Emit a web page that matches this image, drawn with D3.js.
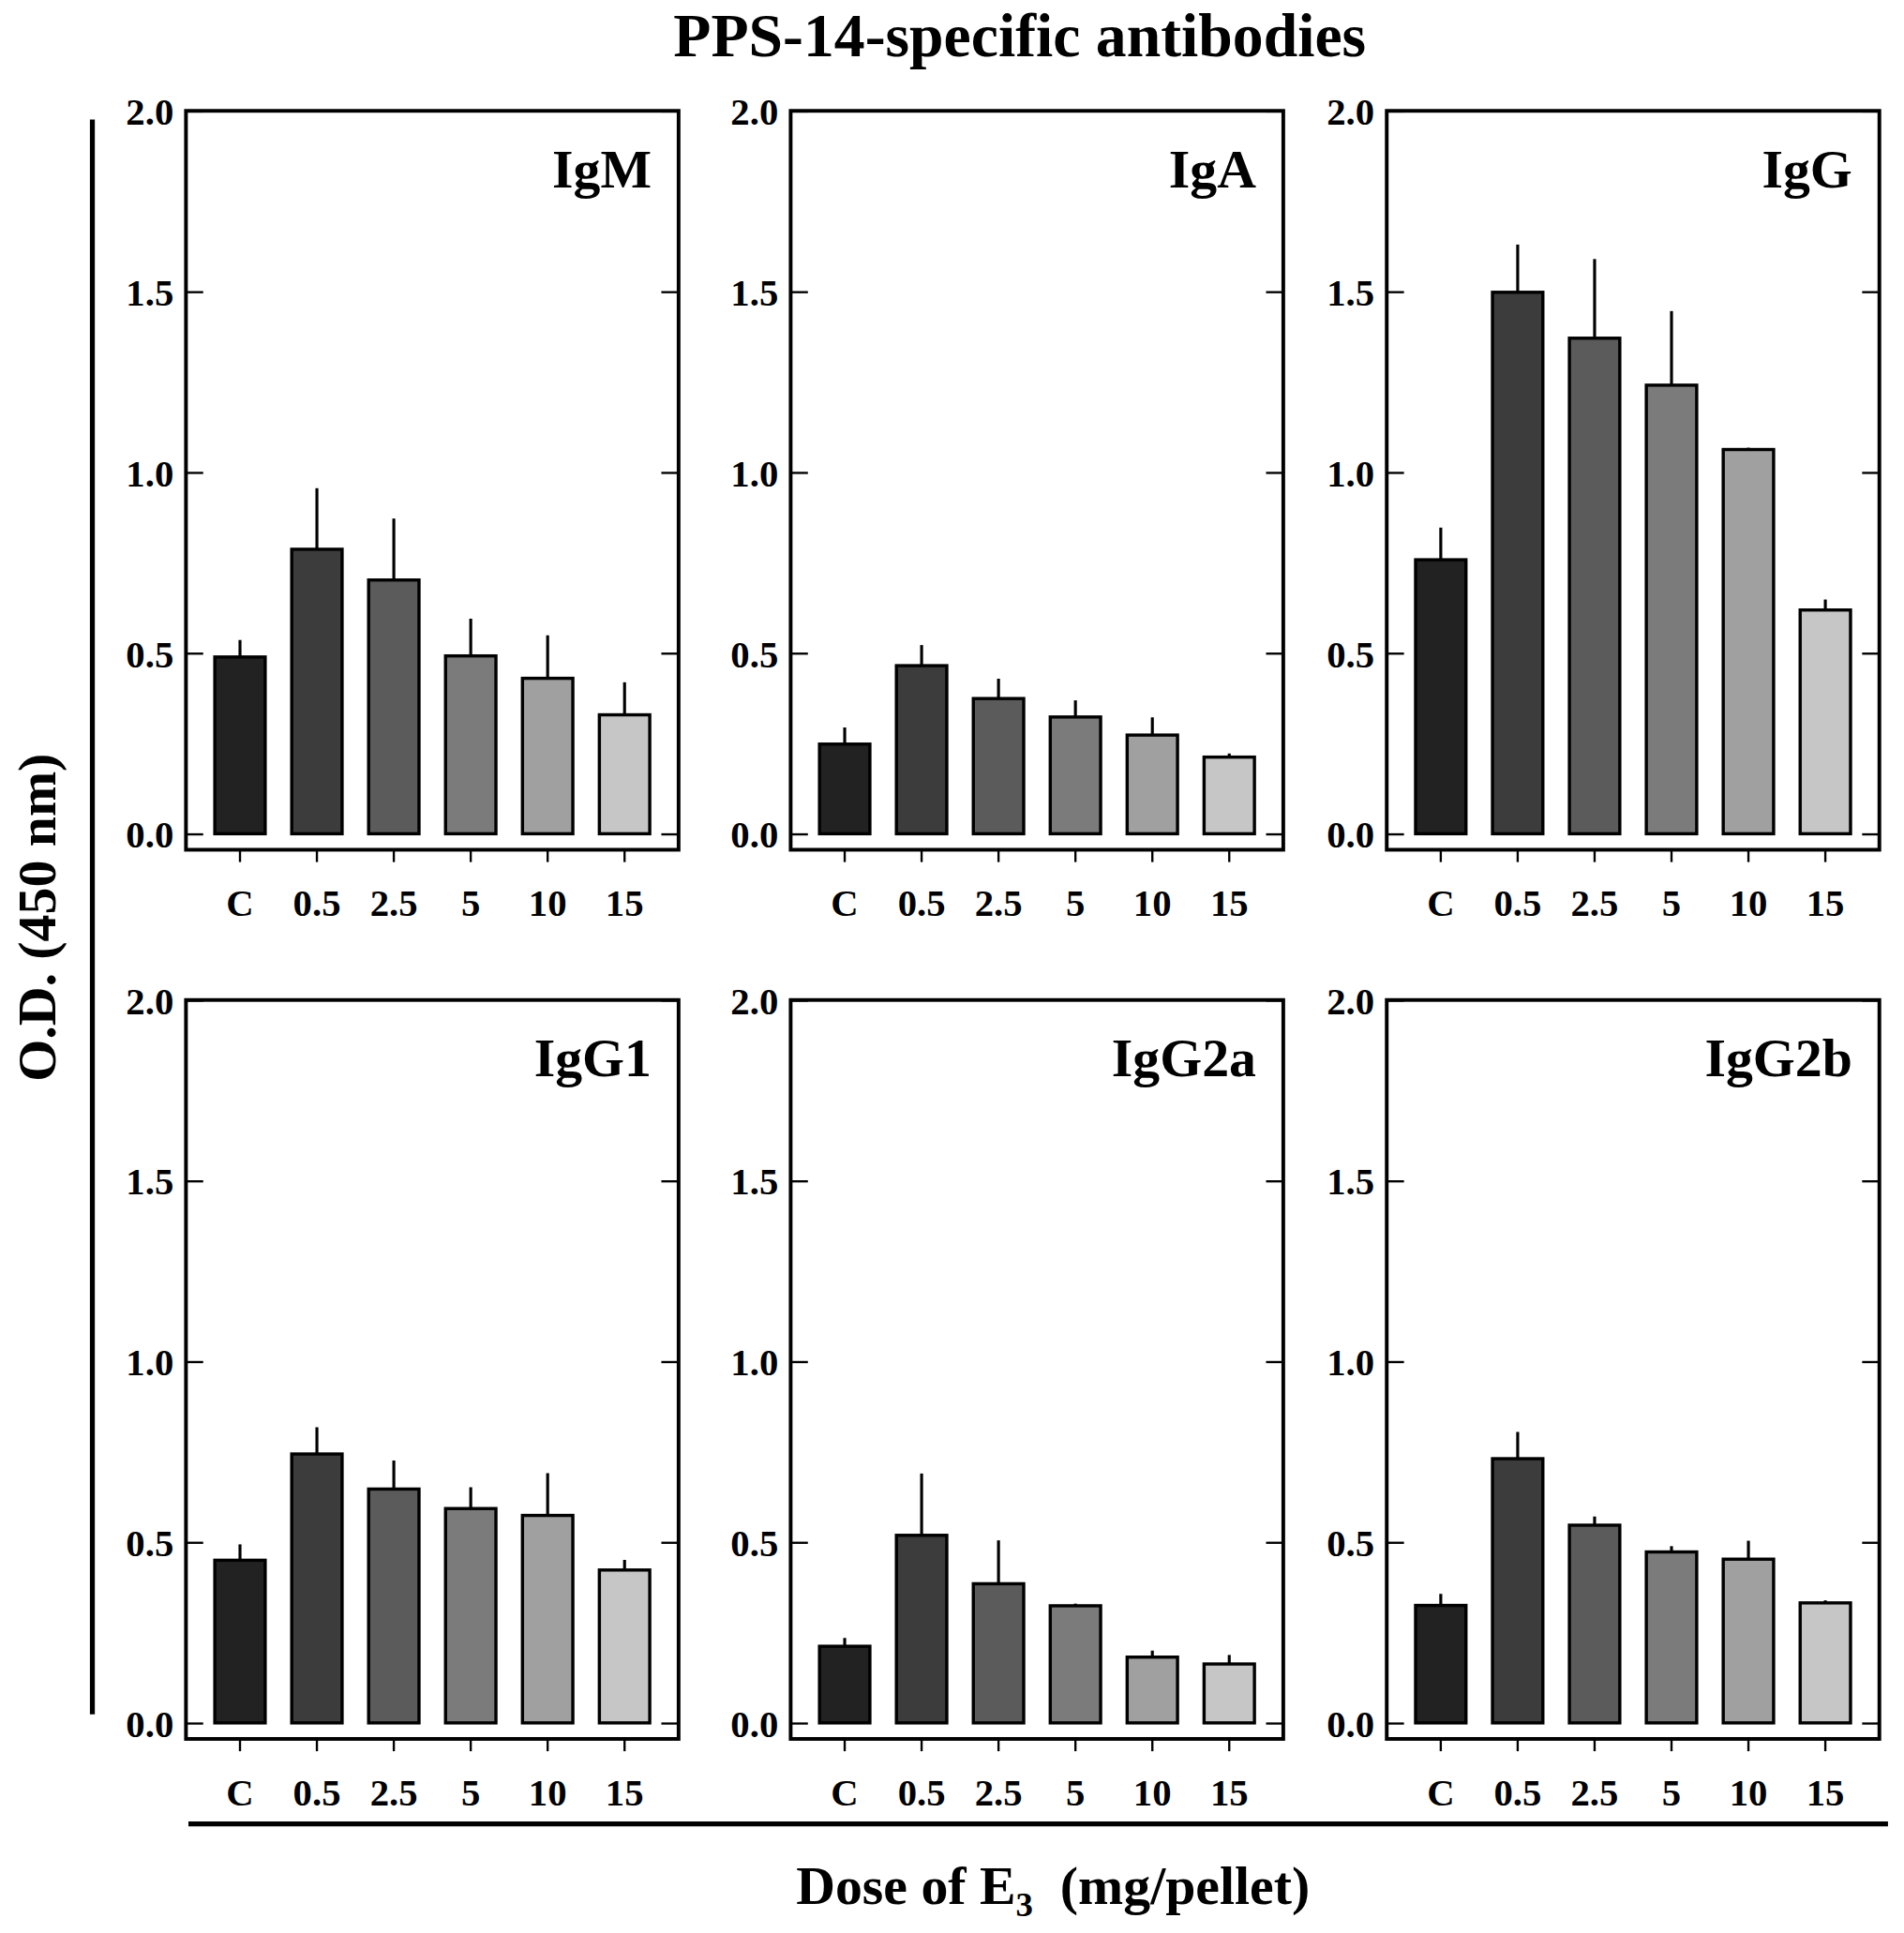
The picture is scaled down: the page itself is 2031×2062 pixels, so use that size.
<!DOCTYPE html>
<html>
<head>
<meta charset="utf-8">
<script src="https://cdn.jsdelivr.net/npm/d3@7"></script>
<style>
  body { margin: 0; background: #fff; }
  text { font-family: "Liberation Serif", "Times New Roman", serif; font-weight: bold; fill: #000; }
</style>
</head>
<body>
<svg id="chart"></svg>
<script>
// doses on the x axis
const doses = ["C", "0.5", "2.5", "5", "10", "15"];
const panelNames = ["IgM", "IgA", "IgG", "IgG1", "IgG2a", "IgG2b"];
const yTicks = [0, 0.5, 1.0, 1.5, 2.0];
const barColors = ["#222222", "#3c3c3c", "#5b5b5b", "#7b7b7b", "#a0a0a0", "#c6c6c6"];

// means (O.D. 450 nm) and error (upper half of bar)
const igM = [0.489, 0.787, 0.702, 0.492, 0.430, 0.329];
const igMErr = [0.047, 0.169, 0.170, 0.103, 0.119, 0.090];
const igA = [0.248, 0.465, 0.374, 0.323, 0.273, 0.212];
const igAErr = [0.046, 0.057, 0.055, 0.046, 0.049, 0.010];
const igG = [0.758, 1.498, 1.371, 1.241, 1.063, 0.619];
const igGErr = [0.089, 0.132, 0.219, 0.205, 0.005, 0.029];
const igG1 = [0.450, 0.744, 0.647, 0.593, 0.574, 0.423];
const igG1Err = [0.044, 0.074, 0.079, 0.059, 0.117, 0.028];
const igG2a = [0.212, 0.519, 0.385, 0.324, 0.182, 0.163];
const igG2aErr = [0.023, 0.171, 0.120, 0.006, 0.018, 0.025];
const igG2b = [0.325, 0.731, 0.547, 0.473, 0.453, 0.332];
const igG2bErr = [0.032, 0.074, 0.024, 0.016, 0.051, 0.007];

const means = [igM, igA, igG, igG1, igG2a, igG2b];
const errs = [igMErr, igAErr, igGErr, igG1Err, igG2aErr, igG2bErr];

const W = 2031, H = 2062;
const K = W / 1546; // layout was measured on a 1546 wide copy

const svg = d3.select("#chart").attr("width", W).attr("height", H);
const g = svg.append("g").attr("transform", `scale(${K})`);

// panel frames
const colX = [151, 642, 1126];
const rowY = [90, 812];
const pw = 400, ph = 600;   // frame size
const zeroOff = 587;        // 0.0 sits this far below frame top

const y = d3.scaleLinear().domain([0, 2]).range([zeroOff, 0]);
const x = d3.scaleBand().domain(doses).range([0, pw]).paddingInner(0.345).paddingOuter(0.375);

// title
g.append("text")
  .attr("x", 828).attr("y", 46)
  .attr("text-anchor", "middle")
  .style("font-size", "50px")
  .text("PPS-14-specific antibodies");

panelNames.forEach((name, i) => {
  const px = colX[i % 3], py = rowY[Math.floor(i / 3)];
  const p = g.append("g").attr("transform", `translate(${px},${py})`);

  const data = doses.map((d, j) => ({ dose: d, v: means[i][j], e: errs[i][j], c: barColors[j] }));

  // error bars (only the upper whisker)
  p.append("g").selectAll("line")
    .data(data)
    .enter()
    .append("line")
    .attr("x1", d => x(d.dose) + x.bandwidth() / 2)
    .attr("x2", d => x(d.dose) + x.bandwidth() / 2)
    .attr("y1", d => y(d.v))
    .attr("y2", d => y(d.v + d.e))
    .attr("stroke", "#000")
    .attr("stroke-width", 2.4);

  p.append("g").selectAll("rect")
    .data(data)
    .enter()
    .append("rect")
    .attr("x", d => x(d.dose))
    .attr("y", d => y(d.v))
    .attr("width", x.bandwidth())
    .attr("height", d => y(0) - y(d.v))
    .attr("fill", d => d.c)
    .attr("stroke", "#000")
    .attr("stroke-width", 2.6);

  // left axis, ticks pointing into the frame
  const yl = p.append("g").call(d3.axisLeft(y).tickValues(yTicks).tickSize(-14).tickPadding(10).tickFormat(d3.format(".1f")));
  yl.select(".domain").remove();
  yl.selectAll("line").attr("stroke-width", 1.8);
  yl.selectAll("text").style("font-size", "31px").attr("dy", "0.35em");

  const yr = p.append("g").attr("transform", `translate(${pw},0)`)
    .call(d3.axisRight(y).tickValues(yTicks).tickSize(-14).tickFormat(""));
  yr.select(".domain").remove();
  yr.selectAll("line").attr("stroke-width", 1.8);

  // bottom axis, ticks outside
  const xb = p.append("g").attr("transform", `translate(0,${ph})`)
    .call(d3.axisBottom(x).tickSize(10).tickPadding(22));
  xb.select(".domain").remove();
  xb.selectAll("line").attr("stroke-width", 1.8);
  xb.selectAll("text").style("font-size", "31px");

  // frame
  p.append("rect")
    .attr("width", pw).attr("height", ph)
    .attr("fill", "none")
    .attr("stroke", "#000")
    .attr("stroke-width", 3);

  p.append("text")
    .attr("x", pw - 22).attr("y", 62)
    .attr("text-anchor", "end")
    .style("font-size", "44px")
    .text(name);
});

// shared axis label lines
g.append("line")
  .attr("x1", 75).attr("x2", 75).attr("y1", 97).attr("y2", 1392)
  .attr("stroke", "#000").attr("stroke-width", 4);
g.append("line")
  .attr("x1", 153).attr("x2", 1533).attr("y1", 1481).attr("y2", 1481)
  .attr("stroke", "#000").attr("stroke-width", 4);

g.append("text")
  .attr("transform", "translate(45,745) rotate(-90)")
  .attr("text-anchor", "middle")
  .style("font-size", "44px")
  .text("O.D. (450 nm)");

const xl = g.append("text")
  .attr("x", 855).attr("y", 1546)
  .attr("text-anchor", "middle")
  .style("font-size", "44px")
  .attr("xml:space", "preserve");
xl.append("tspan").text("Dose of E");
xl.append("tspan").attr("dy", 10).style("font-size", "28px").text("3");
xl.append("tspan").attr("dy", -10).text("\u00a0 (mg/pellet)");
</script>
</body>
</html>
